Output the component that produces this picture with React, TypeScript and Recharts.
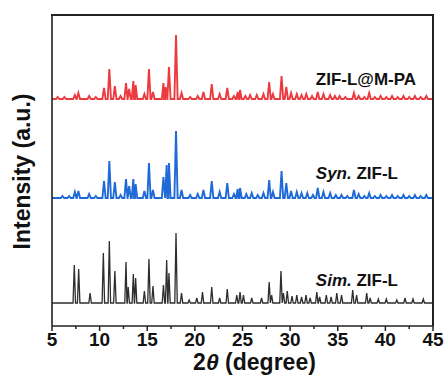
import { LineChart, Line, XAxis, YAxis, ReferenceDot } from "recharts";

// 2θ positions (deg) and peak heights (a.u.)
const simPeaks: [number, number][] = [
    [7.34, 38], [7.8, 34], [9.0, 10], [10.39, 50], [11.02, 62], [11.6, 32], [12.77, 41], [13.0, 16],
    [13.54, 29], [13.78, 25], [14.7, 12], [15.18, 44], [15.6, 17], [16.7, 18], [17.04, 43], [17.28, 30],
    [18.02, 70], [18.6, 10], [19.4, 3], [20.2, 5], [20.8, 11], [21.77, 16], [22.6, 5], [23.4, 14],
    [24.4, 8], [24.74, 11], [25.1, 8], [25.97, 5], [27.0, 5], [27.8, 21], [28.06, 8], [29.04, 32],
    [29.3, 10], [29.7, 12], [30.2, 7], [30.7, 8], [31.2, 6], [31.67, 8], [32.1, 5], [32.8, 11],
    [33.1, 6], [33.8, 8], [34.3, 6], [34.9, 10], [35.4, 8], [36.57, 13], [36.98, 8], [38.04, 10],
    [38.4, 5], [39.26, 4], [40.1, 4], [41.2, 3], [42.06, 5], [42.9, 4], [43.98, 4],
]

const synPeaks: [number, number][] = [
    [6.1, 2], [6.8, 2], [7.4, 6], [7.77, 7], [8.9, 4], [9.6, 2], [10.46, 17], [11.02, 37], [11.6, 16],
    [12.2, 3], [12.77, 19], [13.1, 12], [13.54, 19], [13.78, 14], [14.7, 7], [15.18, 35], [15.6, 8],
    [16.7, 21], [17.04, 33], [17.28, 35], [18.02, 67], [18.6, 8], [19.5, 3], [20.3, 4], [20.9, 8],
    [21.77, 17], [22.6, 6], [23.4, 15], [24.1, 4], [24.5, 9], [24.74, 10], [25.4, 4], [25.97, 5],
    [26.6, 3], [27.2, 5], [27.8, 18], [28.2, 6], [29.1, 27], [29.6, 15], [30.1, 7], [30.7, 6],
    [31.2, 5], [31.8, 5], [32.4, 3], [32.9, 10], [33.5, 6], [34.2, 5], [34.8, 3], [35.4, 3],
    [36.0, 2], [36.7, 8], [37.2, 4], [37.8, 2], [38.3, 5], [38.9, 2], [39.5, 3], [40.1, 2],
    [40.7, 3], [41.3, 2], [41.9, 3], [42.5, 2], [43.1, 3], [43.7, 2], [44.3, 3],
]

const mpaPeaks: [number, number][] = [
    [5.6, 2], [6.3, 2], [7.4, 4], [7.77, 6], [8.9, 3], [9.6, 2], [10.46, 11], [11.02, 30], [11.6, 13],
    [12.2, 3], [12.77, 16], [13.1, 10], [13.54, 18], [13.78, 14], [14.7, 5], [15.18, 30], [15.6, 7],
    [16.7, 16], [16.93, 12], [17.28, 32], [18.02, 64], [18.6, 6], [19.5, 2], [20.3, 3], [20.9, 7],
    [21.77, 15], [22.6, 5], [23.4, 11], [24.1, 3], [24.5, 7], [24.74, 9], [25.3, 3], [25.8, 4],
    [26.5, 4], [27.2, 5], [27.8, 17], [28.2, 5], [29.1, 23], [29.6, 12], [30.1, 6], [30.7, 5],
    [31.2, 4], [31.7, 5], [32.3, 3], [32.9, 7], [33.5, 5], [34.2, 4], [34.7, 3], [35.2, 3],
    [35.8, 2], [36.7, 6], [37.2, 3], [37.8, 2], [38.3, 6], [38.9, 2], [39.5, 3], [40.1, 2],
    [40.7, 3], [41.3, 2], [41.9, 3], [42.5, 2], [43.1, 3], [43.7, 2], [44.3, 3],
]

// vertical stacking offsets of the three patterns
const simOffset = 0
const synOffset = 105
const mpaOffset = 204

const xTicks = [5, 7.5, 10, 12.5, 15, 17.5, 20, 22.5, 25, 27.5, 30, 32.5, 35, 37.5, 40, 42.5, 45]
const xMin = 5
const xMax = 45
const yMin = -23
const yMax = 288

const font = "'Liberation Sans', Arial, sans-serif"
const axisStroke = { stroke: "#222", strokeWidth: 1.6 }
const W = 448
const H = 387
const MARGIN = { top: 15, right: 15, bottom: 0, left: 0 }
const Y_AXIS_W = 52
const X_AXIS_H = 61

// line points: baseline at both ends of each peak, top at the peak
const buildProfile = (peaks: [number, number][], base: number, w: number) => {
    const pts: { x: number; y: number }[] = [{ x: xMin, y: base }, { x: xMax, y: base }]
    peaks.forEach(([p, h]) => {
        pts.push({ x: p - w, y: base })
        pts.push({ x: p, y: base + h })
        pts.push({ x: p + w, y: base })
    })
    return pts.filter(d => d.x >= xMin && d.x <= xMax).sort((a, b) => a.x - b.x)
}

const simData = buildProfile(simPeaks, simOffset, 0.13)
const synData = buildProfile(synPeaks, synOffset, 0.17)
const mpaData = buildProfile(mpaPeaks, mpaOffset, 0.17)

const seriesLabel = (italic: string, rest: string) => (props: any) => {
    const { viewBox } = props
    return (
        <text x={viewBox.x} y={viewBox.y} dominantBaseline="middle" fontFamily={font} fontWeight="bold" fontSize={17} fill="#111">
            {italic && <tspan fontStyle="italic">{italic}</tspan>}
            <tspan>{rest}</tspan>
        </text>
    )
}

const TICK_SIZE = 5
const TICK_MARGIN = 2

// major ticks get a label and a 5px mark, minor ones only a short mark
const XTick = (props: any) => {
    const { x, y, payload } = props
    const axisY = y - TICK_SIZE - TICK_MARGIN
    const major = payload.value % 5 === 0
    return (
        <g>
            <line x1={x} x2={x} y1={axisY} y2={axisY + (major ? 5 : 3)} stroke="#222" strokeWidth={1.5} />
            {major && (
                <text x={x} y={y} dy="0.71em" textAnchor="middle" fontFamily={font} fontWeight="bold" fontSize={19} fill="#111">
                    {payload.value}
                </text>
            )}
        </g>
    )
}

const XLabel = (props: any) => {
    const vb = props.viewBox
    return (
        <text x={vb.x + vb.width / 2 + 12} y={vb.y + 44} textAnchor="middle"
            fontFamily={font} fontWeight="bold" fontSize={23} fill="#111">
            2<tspan fontStyle="italic">θ</tspan> (degree)
        </text>
    )
}

export default function App() {
    return (
        <div style={{ position: "absolute", left: 0, top: 0, width: W, height: H, background: "#fff" }}>
            <LineChart width={W} height={H} margin={MARGIN}>
                <XAxis xAxisId="main" type="number" dataKey="x" domain={[xMin, xMax]} ticks={xTicks}
                    interval={0} height={X_AXIS_H} tickSize={TICK_SIZE} tickMargin={TICK_MARGIN}
                    axisLine={axisStroke} tickLine={false} tick={<XTick />}
                    label={(props: any) => <XLabel {...props} />} />
                <YAxis yAxisId="main" type="number" domain={[yMin, yMax]} width={Y_AXIS_W} tick={false} tickLine={false}
                    axisLine={axisStroke}
                    label={(props: any) => {
                        const vb = props.viewBox
                        const cx = vb.x + 24
                        const cy = vb.y + vb.height / 2 + 1
                        return (
                            <text x={cx} y={cy} textAnchor="middle" dominantBaseline="middle"
                                transform={`rotate(-90 ${cx} ${cy})`}
                                fontFamily={font} fontWeight="bold" fontSize={23} fill="#111">
                                Intensity (a.u.)
                            </text>
                        )
                    }} />
                <Line xAxisId="main" yAxisId="main" data={simData} dataKey="y" type="linear" stroke="#2e2e2e"
                    strokeWidth={1.3} dot={false} isAnimationActive={false} />
                <Line xAxisId="main" yAxisId="main" data={synData} dataKey="y" type="linear" stroke="#1f6ad8"
                    strokeWidth={1.9} dot={false} isAnimationActive={false} />
                <Line xAxisId="main" yAxisId="main" data={mpaData} dataKey="y" type="linear" stroke="#ec3a3f"
                    strokeWidth={1.9} dot={false} isAnimationActive={false} />
                <ReferenceDot xAxisId="main" yAxisId="main" x={32.7} y={mpaOffset + 18} r={0} stroke="none"
                    label={seriesLabel("", "ZIF-L@M-PA")} />
                <ReferenceDot xAxisId="main" yAxisId="main" x={32.7} y={synOffset + 23} r={0} stroke="none"
                    label={seriesLabel("Syn.", " ZIF-L")} />
                <ReferenceDot xAxisId="main" yAxisId="main" x={32.7} y={simOffset + 21} r={0} stroke="none"
                    label={seriesLabel("Sim.", " ZIF-L")} />
            </LineChart>
            {/* top and right edges of the plot frame */}
            <div style={{
                position: "absolute", pointerEvents: "none", boxSizing: "border-box",
                left: MARGIN.left + Y_AXIS_W - 1, top: MARGIN.top - 1,
                width: W - MARGIN.left - MARGIN.right - Y_AXIS_W + 2,
                height: H - MARGIN.top - MARGIN.bottom - X_AXIS_H + 1,
                borderTop: "2px solid #222", borderRight: "2px solid #222",
            }} />
        </div>
    )
}
